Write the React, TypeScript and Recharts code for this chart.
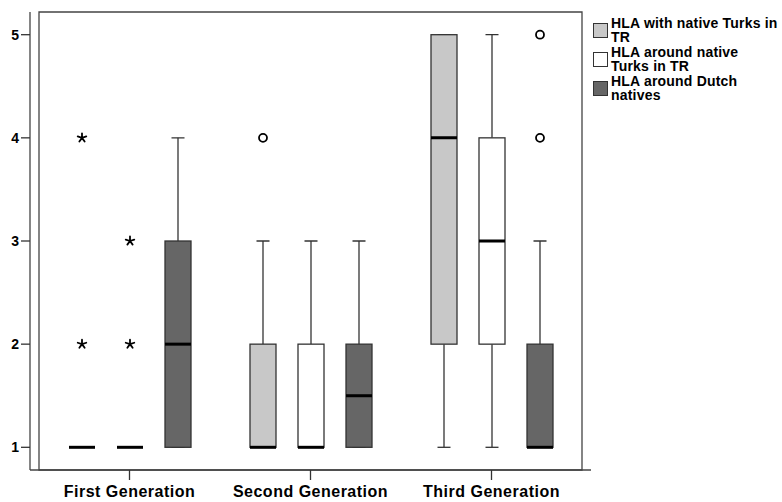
import { ComposedChart, Bar, XAxis, YAxis, ReferenceArea } from "recharts"

// categories and series
const generations = ["First Generation", "Second Generation", "Third Generation"]
const seriesNames = ["HLA with native Turks in\nTR", "HLA around native\nTurks in TR", "HLA around Dutch\nnatives"]
const seriesFills = ["#c8c8c8", "#ffffff", "#666666"]

// five-number summaries per generation: [min, q1, median, q3, max]
const withTurksTR = [
  [1, 1, 1, 1, 1],
  [1, 1, 1, 2, 3],
  [1, 2, 4, 5, 5],
]
const aroundTurksTR = [
  [1, 1, 1, 1, 1],
  [1, 1, 1, 2, 3],
  [1, 2, 3, 4, 5],
]
const aroundDutch = [
  [1, 1, 2, 3, 4],
  [1, 1, 1.5, 2, 3],
  [1, 1, 1, 2, 3],
]

// outliers (circles) and extremes (stars) per generation
const withTurksMild = [[], [4], []]
const aroundTurksMild = [[], [], []]
const aroundDutchMild = [[], [], [4, 5]]
const withTurksExtreme = [[4, 2], [], []]
const aroundTurksExtreme = [[3, 2], [], []]
const aroundDutchExtreme = [[], [], []]

const yTicks = [1, 2, 3, 4, 5]
const yDomain = [0.78, 5.22]

const seriesStats = [withTurksTR, aroundTurksTR, aroundDutch]
const seriesMild = [withTurksMild, aroundTurksMild, aroundDutchMild]
const seriesExtreme = [withTurksExtreme, aroundTurksExtreme, aroundDutchExtreme]

const data = generations.map((name, g) => {
  const row: any = { name }
  seriesStats.forEach((stats, s) => {
    const all = [...stats[g], ...seriesMild[s][g], ...seriesExtreme[s][g]]
    row[`range${s}`] = [Math.min(...all), Math.max(...all)]
    row[`stats${s}`] = stats[g]
    row[`mild${s}`] = seriesMild[s][g]
    row[`extreme${s}`] = seriesExtreme[s][g]
  })
  return row
})

const Star = ({ cx, cy }: { cx: number; cy: number }) => {
  const r = 4.5
  const d = [0, 1, 2, 3, 4]
    .map((i) => {
      const a = (-90 + i * 72) * (Math.PI / 180)
      return `M${cx},${cy}L${cx + r * Math.cos(a)},${cy + r * Math.sin(a)}`
    })
    .join("")
  return <path d={d} stroke="#000" strokeWidth={1.8} strokeLinecap="round" fill="none" />
}

const BoxShape = (props: any) => {
  const { x, y, width, height, payload, s } = props
  const [lo, hi] = payload[`range${s}`]
  const [min, q1, median, q3, max] = payload[`stats${s}`]
  const top = Math.min(y, y + height)
  const h = Math.abs(height)
  const py = (v: number) => top + ((hi - v) / (hi - lo)) * h
  const cx = x + width / 2
  const cap = width / 2
  const line = "#333"
  return (
    <g>
      <line x1={cx} x2={cx} y1={py(max)} y2={py(q3)} stroke={line} strokeWidth={1.3} />
      <line x1={cx} x2={cx} y1={py(q1)} y2={py(min)} stroke={line} strokeWidth={1.3} />
      <line x1={cx - cap / 2} x2={cx + cap / 2} y1={py(max)} y2={py(max)} stroke={line} strokeWidth={1.3} />
      <line x1={cx - cap / 2} x2={cx + cap / 2} y1={py(min)} y2={py(min)} stroke={line} strokeWidth={1.3} />
      <rect
        x={x}
        y={py(q3)}
        width={width}
        height={py(q1) - py(q3)}
        fill={seriesFills[s]}
        stroke={line}
        strokeWidth={1.3}
      />
      <line x1={x} x2={x + width} y1={py(median)} y2={py(median)} stroke="#000" strokeWidth={3} />
      {payload[`mild${s}`].map((v: number, i: number) => (
        <circle key={`m${i}`} cx={cx} cy={py(v)} r={4} fill="none" stroke="#000" strokeWidth={1.8} />
      ))}
      {payload[`extreme${s}`].map((v: number, i: number) => (
        <Star key={`e${i}`} cx={cx} cy={py(v)} />
      ))}
    </g>
  )
}

export default function App() {
  const font = '"Liberation Sans", Arial, sans-serif'
  return (
    <div style={{ position: "absolute", left: 0, top: 0, width: 782, height: 502, background: "#fff", fontFamily: font }}>
      <ComposedChart
        width={782}
        height={502}
        data={data}
        margin={{ top: 12, right: 191, bottom: 0, left: 0 }}
        barSize={26}
        barGap={22}
      >
        <ReferenceArea y1={yDomain[0]} y2={yDomain[1]} fill="none" stroke="#444" strokeWidth={1.3} />
        <XAxis
          dataKey="name"
          type="category"
          padding={{ left: 9, right: 9 }}
          height={32}
          tickSize={10}
          tickMargin={6}
          axisLine={{ stroke: "#444", strokeWidth: 1.3 }}
          tickLine={{ stroke: "#333", strokeWidth: 1.3 }}
          tick={{ fill: "#000", fontSize: 16, fontWeight: "bold", fontFamily: font, letterSpacing: 0.5 }}
        />
        <YAxis
          type="number"
          domain={yDomain}
          ticks={yTicks}
          allowDataOverflow
          width={30}
          tickSize={9}
          tickMargin={2}
          axisLine={{ stroke: "#444", strokeWidth: 1.3 }}
          tickLine={{ stroke: "#333", strokeWidth: 1.3 }}
          tick={{ fill: "#000", fontSize: 14, fontWeight: "bold", fontFamily: font }}
        />
        {seriesNames.map((n, s) => (
          <Bar
            key={n}
            dataKey={(row: any) => row[`range${s}`]}
            name={n}
            isAnimationActive={false}
            shape={(p: any) => <BoxShape {...p} s={s} />}
          />
        ))}
      </ComposedChart>
      <div style={{ position: "absolute", left: 593, top: 16 }}>
        {seriesNames.map((n, s) => (
          <div key={n} style={{ display: "flex", alignItems: "center", marginBottom: 1 }}>
            <div
              style={{
                width: 13,
                height: 13,
                border: "1px solid #333",
                background: seriesFills[s],
                marginRight: 3,
                flexShrink: 0,
              }}
            />
            <div
              style={{
                whiteSpace: "pre",
                fontSize: 14,
                lineHeight: "14px",
                fontWeight: "bold",
                letterSpacing: 0.2,
                color: "#000",
              }}
            >
              {n}
            </div>
          </div>
        ))}
      </div>
    </div>
  )
}
